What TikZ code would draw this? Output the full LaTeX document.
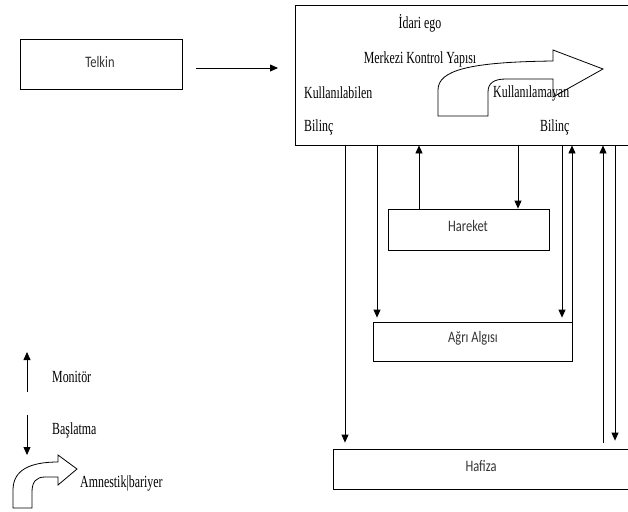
\documentclass[tikz,border=0pt]{standalone}
\usepackage{fontspec}
\usepackage{graphicx}
\setmainfont{Liberation Serif}
\newfontfamily\sansf{Carlito}
\usetikzlibrary{arrows.meta}
\tikzset{
  box/.style={draw, line width=0.8pt, inner sep=0pt, anchor=center},
  lbl/.style={inner sep=0pt, font=\fontsize{17}{19}\selectfont},
  slbl/.style={inner sep=0pt, text=black!80, font=\sansf\fontsize{16}{18}\selectfont},
  conn/.style={line width=0.8pt, -{Triangle[length=8pt,width=7pt]}},
  blockarrow/.style={draw, line width=0.8pt, fill=white, line join=miter}
}
\newcommand{\sq}[1]{\scalebox{0.70}[1]{#1}}
\newcommand{\ssq}[1]{\scalebox{0.78}[1]{#1}}
\begin{document}
\begin{tikzpicture}[x=1pt, y=-1pt]
\useasboundingbox (0,0) rectangle (628,511);
% boxes
\node[box, minimum width=334pt, minimum height=140pt] (main) at (462,75) {};
\node[box, minimum width=162pt, minimum height=50pt] (telkin) at (101,64) {};
\node[slbl] (telkint) at (100,61.5) {\ssq{Telkin}};
\node[box, minimum width=161pt, minimum height=41pt] (hareket) at (468.5,229.5) {};
\node[slbl] at (468,226.5) {\ssq{Hareket}};
\node[box, minimum width=199pt, minimum height=39pt] (agri) at (472.5,341.5) {};
\node[slbl] at (473,338.5) {\ssq{Ağrı Algısı}};
\node[box, minimum width=296pt, minimum height=40pt] (hafiza) at (481,469) {};
\node[slbl] at (481,466.5) {\ssq{Hafiza}};
% main curved block arrow
\draw[blockarrow] (438,116) -- (438,90) .. controls (438,70) and (470,62) .. (553,61)
  -- (553,50) -- (603,69) -- (553,97) -- (553,79) -- (506,79)
  .. controls (494,79) and (488,83) .. (488,92) -- (488,116) -- cycle;
% texts in main box
\node[lbl] (idari) at (420,23) {\sq{İdari ego}};
\node[lbl] (merkezi) at (420,59) {\sq{Merkezi Kontrol Yapısı}};
\node[lbl, anchor=west] (kab) at (304,93) {\sq{Kullanılabilen}};
\node[lbl, anchor=west] (kam) at (493,93) {\sq{Kullanılamayan}};
\node[lbl, anchor=west] (b1) at (304,127) {\sq{Bilinç}};
\node[lbl, anchor=west] (b2) at (540,127) {\sq{Bilinç}};
% Telkin arrow
\coordinate (ta) at (196,68);
\coordinate (tb) at (278,68);
\draw[conn] (ta) -- (tb);
% x positions
\coordinate (x1) at (345,0);
\coordinate (x2) at (377,0);
\coordinate (x3) at (419,0);
\coordinate (x4) at (518,0);
\coordinate (x5) at (562,0);
\coordinate (x6) at (572,0);
\coordinate (x7) at (603,0);
\coordinate (x8) at (615,0);
\coordinate (x7b) at (603,443);
% connectors
\draw[conn, shorten >=6pt] (x1 |- main.south) -- (x1 |- hafiza.north);
\draw[conn, shorten >=4pt] (x2 |- main.south) -- (x2 |- agri.north);
\draw[conn] (x3 |- hareket.north) -- (x3 |- main.south);
\draw[conn] (x4 |- main.south) -- (x4 |- hareket.north);
\draw[conn, shorten >=4pt] (x5 |- main.south) -- (x5 |- agri.north);
\draw[conn] (x6 |- agri.north) -- (x6 |- main.south);
\draw[conn] (x7b) -- (x7 |- main.south);
\draw[conn, shorten >=8pt] (x8 |- main.south) -- (x8 |- hafiza.north);
% legend
\coordinate (m1) at (27,392);
\coordinate (m2) at (27,352);
\draw[conn] (m1) -- (m2);
\node[lbl, anchor=west] (mon) at (52,377) {\sq{Monitör}};
\coordinate (s1) at (27,415);
\coordinate (s2) at (27,455);
\draw[conn] (s1) -- (s2);
\node[lbl, anchor=west] (bas) at (52,430) {\sq{Başlatma}};
\draw[blockarrow] (13,508) -- (13,490) .. controls (13,470) and (30,462) .. (58,462)
  -- (58,455) -- (77,469) -- (58,485) -- (58,477) -- (45,477)
  .. controls (36,477) and (32,482) .. (32,492) -- (32,508) -- cycle;
\node[lbl, anchor=west] (amn) at (80,483) {\sq{Amnestik|bariyer}};
\end{tikzpicture}
\end{document}
